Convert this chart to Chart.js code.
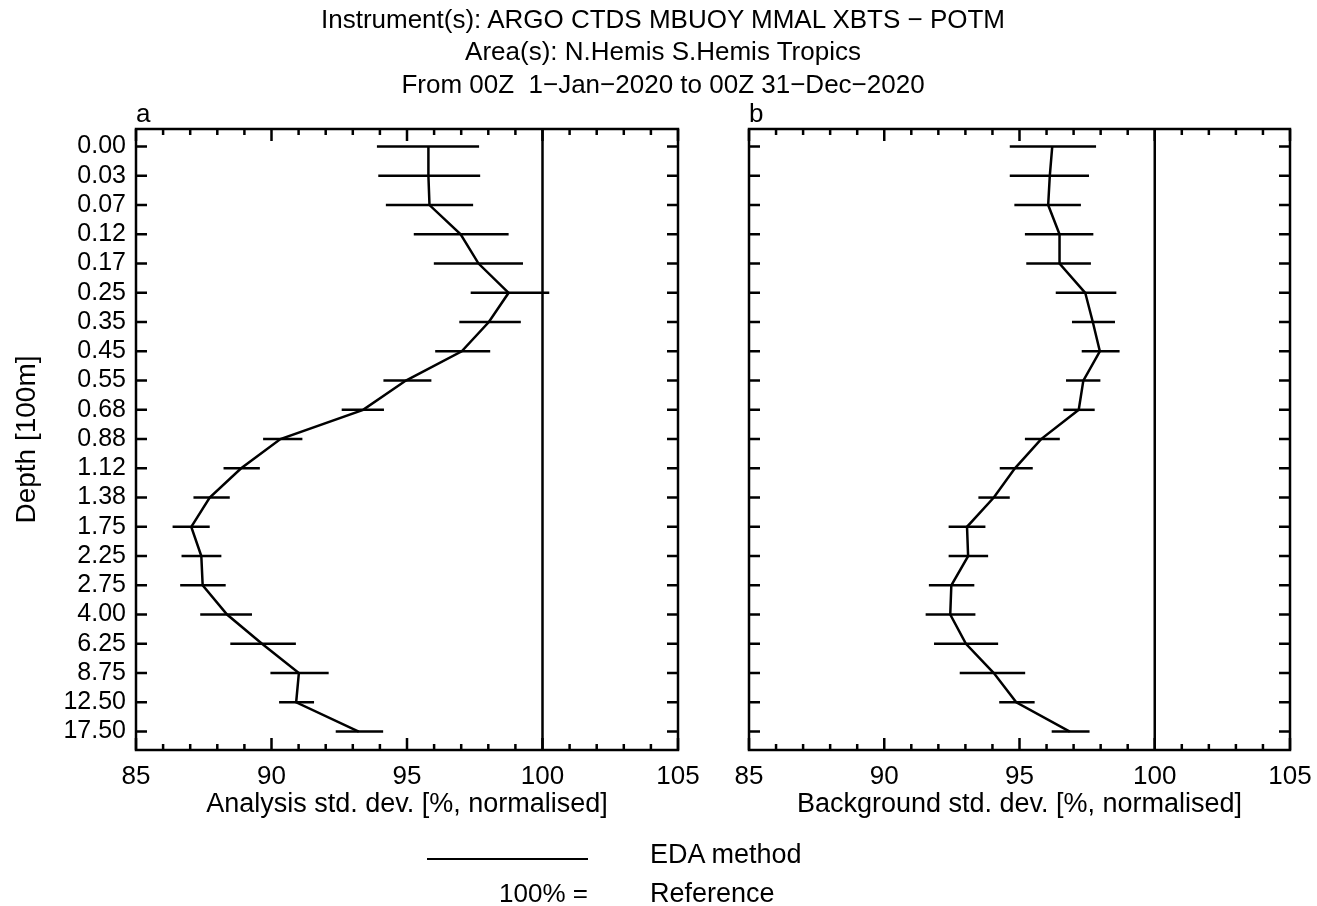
<!DOCTYPE html>
<html>
<head>
<meta charset="utf-8">
<script src="https://cdn.jsdelivr.net/npm/chart.js@4.4.0/dist/chart.umd.min.js"></script>
<style>
  html, body { margin: 0; padding: 0; background: #fff; }
  #wrap { position: relative; width: 1317px; height: 906px; overflow: hidden; background: #fff; }
  canvas { position: absolute; top: 0; }
  .t { position: absolute; font-family: "Liberation Sans", Arial, sans-serif; font-size: 26px; color: #000; white-space: nowrap; line-height: 1; }
  .c { transform: translate(-50%, -50%); }
  .l { transform: translate(0, -50%); }
  .r { transform: translate(-100%, -50%); }
</style>
</head>
<body>
<div id="wrap">
  <canvas id="ca"></canvas>
  <canvas id="cb"></canvas>
  <div class="t c" style="left:663px; top:19px;">Instrument(s): ARGO CTDS MBUOY MMAL XBTS − POTM</div>
  <div class="t c" style="left:663px; top:51px;">Area(s): N.Hemis S.Hemis Tropics</div>
  <div class="t c" style="left:663px; top:84px;">From 00Z&nbsp; 1−Jan−2020 to 00Z 31−Dec−2020</div>
  <div class="t l" style="left:136px; top:113px;">a</div>
  <div class="t l" style="left:749px; top:113px;">b</div>
  <div style="position:absolute; left:427px; top:858px; width:161px; height:0; border-top:2.5px solid #000;"></div>
  <div class="t l" style="left:650px; top:854px; font-size:27px;">EDA method</div>
  <div class="t r" style="left:588px; top:893px;">100% =</div>
  <div class="t l" style="left:650px; top:893px; font-size:27px;">Reference</div>
</div>
<script>
// ---- data ----
const depthLabels = ['0.00','0.03','0.07','0.12','0.17','0.25','0.35','0.45','0.55','0.68','0.88',
  '1.12','1.38','1.75','2.25','2.75','4.00','6.25','8.75','12.50','17.50'];
const xTickLabels = ['85','90','95','100','105'];

const anaVal = [95.79,95.79,95.83,96.98,97.64,98.75,98.02,97.02,94.96,93.38,90.33,88.88,87.72,87.04,87.41,87.46,88.36,89.65,91.01,90.91,93.22];
const anaLo  = [93.89,93.94,94.22,95.25,95.99,97.35,96.93,96.04,94.13,92.59,89.69,88.23,87.12,86.35,86.68,86.63,87.37,88.48,89.96,90.28,92.37];
const anaHi  = [97.66,97.70,97.44,98.75,99.28,100.25,99.20,98.07,95.90,94.15,91.14,89.57,88.46,87.72,88.15,88.31,89.28,90.90,92.11,91.57,94.12];

const bgVal = [96.21,96.12,96.06,96.48,96.48,97.43,97.71,97.97,97.36,97.19,95.80,94.83,94.05,93.06,93.10,92.48,92.44,93.02,94.05,94.88,96.86];
const bgLo  = [94.64,94.64,94.81,95.20,95.25,96.34,96.94,97.30,96.72,96.62,95.20,94.27,93.48,92.38,92.38,91.65,91.53,91.84,92.79,94.25,96.19];
const bgHi  = [97.83,97.57,97.27,97.73,97.64,98.58,98.53,98.70,97.99,97.78,96.49,95.49,94.64,93.74,93.84,93.33,93.37,94.21,95.21,95.56,97.59];

const refValue = 100;
const xMin = 85, xMax = 105;
const yMin = -0.6, yMax = 20.63;

Chart.defaults.font.family = '"Liberation Sans", Arial, sans-serif';
Chart.defaults.font.size = 26;
Chart.defaults.color = '#000';

const LW = 2.5;

const frame = {
  id: 'frame',
  afterDraw(chart) {
    const { ctx, chartArea: a, scales } = chart;
    ctx.save();
    ctx.strokeStyle = '#000';
    ctx.lineWidth = LW;
    ctx.lineCap = 'butt';
    ctx.beginPath();
    scales.y.ticks.forEach((t, i) => {
      const p = scales.y.getPixelForTick(i);
      ctx.moveTo(a.left, p); ctx.lineTo(a.left + 11, p);
      ctx.moveTo(a.right, p); ctx.lineTo(a.right - 11, p);
    });
    scales.x.ticks.forEach((t, i) => {
      const p = scales.x.getPixelForTick(i);
      const len = xTickLabels.includes(String(t.value)) ? 12 : 6;
      ctx.moveTo(p, a.bottom); ctx.lineTo(p, a.bottom - len);
      ctx.moveTo(p, a.top); ctx.lineTo(p, a.top + len);
    });
    ctx.stroke();
    ctx.strokeRect(a.left, a.top, a.right - a.left, a.bottom - a.top);
    ctx.restore();
  }
};

function makePanel(id, left, width, vals, lo, hi, xTitle, yLabelsShown, areaLeft, areaRight) {
  const cv = document.getElementById(id);
  cv.style.left = left + 'px';
  cv.width = width; cv.height = 906;
  cv.style.width = width + 'px'; cv.style.height = '906px';
  const datasets = [];
  datasets.push({
    data: vals.map((v, i) => ({ x: v, y: i })),
    showLine: true, borderColor: '#000', borderWidth: LW, pointRadius: 0, tension: 0
  });
  for (let i = 0; i < vals.length; i++) {
    datasets.push({
      data: [{ x: lo[i], y: i }, { x: hi[i], y: i }],
      showLine: true, borderColor: '#000', borderWidth: LW, pointRadius: 0
    });
  }
  datasets.push({
    data: [{ x: refValue, y: yMin }, { x: refValue, y: yMax }],
    showLine: true, borderColor: '#000', borderWidth: LW, pointRadius: 0
  });
  return new Chart(cv, {
    type: 'scatter',
    data: { datasets },
    options: {
      responsive: false, animation: false, devicePixelRatio: 1,
      layout: { padding: { left: 0, right: width - areaRight, top: 129, bottom: 906 - 750 - 72 } },
      plugins: { legend: { display: false }, tooltip: { enabled: false } },
      scales: {
        x: {
          type: 'linear', position: 'bottom', min: xMin, max: xMax,
          grid: { display: false }, border: { display: false },
          afterBuildTicks: (s) => {
            const t = [];
            for (let v = xMin; v <= xMax; v++) t.push({ value: v });
            s.ticks = t;
          },
          afterFit: (s) => { s.height = 72; },
          ticks: {
            autoSkip: false, maxRotation: 0, padding: 3,
            callback: (v) => xTickLabels.includes(String(v)) ? String(v) : ''
          },
          title: { display: true, text: xTitle, font: { size: 27 }, padding: { top: 0, bottom: 1 } }
        },
        y: {
          type: 'linear', position: 'left', min: yMin, max: yMax, reverse: true,
          grid: { display: false }, border: { display: false },
          afterBuildTicks: (s) => { s.ticks = depthLabels.map((_, i) => ({ value: i })); },
          afterFit: (s) => { s.width = areaLeft; },
          ticks: {
            display: yLabelsShown, autoSkip: false, padding: 2, font: { size: 25 },
            callback: (v) => depthLabels[v]
          },
          title: { display: yLabelsShown, text: 'Depth [100m]', font: { size: 28 }, padding: { top: 10, bottom: 0 } }
        }
      }
    },
    plugins: [frame]
  });
}

makePanel('ca', 0, 720, anaVal, anaLo, anaHi, 'Analysis std. dev. [%, normalised]', true, 136, 678);
makePanel('cb', 700, 617, bgVal, bgLo, bgHi, 'Background std. dev. [%, normalised]', false, 49, 590);
</script>
</body>
</html>
